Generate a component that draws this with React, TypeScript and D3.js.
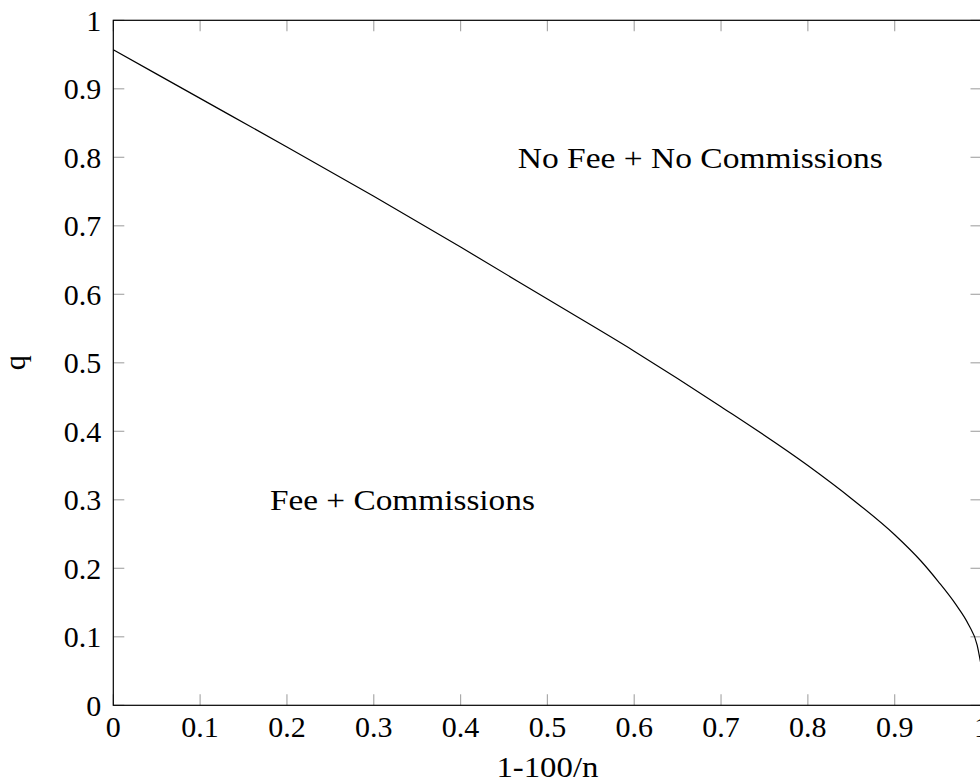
import * as d3 from 'd3';

const width = 980;
const height = 784;
const margin = { top: 20.3, left: 113.3, bottom: 78.7 };
const plotW = 868.2;

// curve: x = 1-100/n, q
const xValues = [0, 0.1, 0.2, 0.3, 0.4, 0.5, 0.6, 0.7, 0.8, 0.85, 0.9, 0.93, 0.95, 0.97, 0.985, 0.995, 1];
const qValues = [0.957, 0.886, 0.815, 0.743, 0.669, 0.593, 0.517, 0.436, 0.35, 0.302, 0.249, 0.211, 0.181, 0.148, 0.118, 0.088, 0.055];

const tickValues = [0, 0.1, 0.2, 0.3, 0.4, 0.5, 0.6, 0.7, 0.8, 0.9, 1];
const tickLabels = ['0', '0.1', '0.2', '0.3', '0.4', '0.5', '0.6', '0.7', '0.8', '0.9', '1'];

const regionLabels = ['No Fee + No Commissions', 'Fee + Commissions'];
const regionX = [0.676, 0.333];
const regionQ = [0.8, 0.3];
const regionWidths = [365, 265];

const font = "'Liberation Serif', 'Times New Roman', serif";

export default function App() {
  const plotH = height - margin.top - margin.bottom;
  const x = d3.scaleLinear().domain([0, 1]).range([margin.left, margin.left + plotW]);
  const y = d3.scaleLinear().domain([0, 1]).range([margin.top + plotH, margin.top]);

  const points: [number, number][] = xValues.map((v, i) => [v, qValues[i]]);
  const line = d3
    .line<[number, number]>()
    .x((d) => x(d[0]))
    .y((d) => y(d[1]))
    .curve(d3.curveMonotoneX);

  const tickLen = 11;
  const x0 = x(0), x1 = x(1), y0 = y(0), y1 = y(1);

  return (
    <svg
      width={width}
      height={height}
      style={{ position: 'absolute', left: 0, top: 0, background: '#fff', fontFamily: font }}
    >
      <rect x={0} y={0} width={width} height={height} fill="#fff" />
      {/* ticks on all four sides, pointing in */}
      <g stroke="#aaa" strokeWidth={1.2}>
        {tickValues.map((t, i) => (
          <g key={'t' + i}>
            <line x1={x(t)} x2={x(t)} y1={y0} y2={y0 - tickLen} />
            <line x1={x(t)} x2={x(t)} y1={y1} y2={y1 + tickLen} />
            <line x1={x0} x2={x0 + tickLen} y1={y(t)} y2={y(t)} />
            <line x1={x1} x2={x1 - tickLen} y1={y(t)} y2={y(t)} />
          </g>
        ))}
      </g>
      <path d={line(points) ?? ''} fill="none" stroke="#000" strokeWidth={1.2} />
      <rect x={x0} y={y1} width={x1 - x0} height={y0 - y1} fill="none" stroke="#000" strokeWidth={1.2} />
      {/* y tick labels */}
      {tickValues.map((t, i) => (
        <text key={'yl' + i} x={x0 - 12} y={y(t) + 10.5} textAnchor="end" fontSize={30} fill="#000">
          {tickLabels[i]}
        </text>
      ))}
      {/* x tick labels */}
      {tickValues.map((t, i) => (
        <text key={'xl' + i} x={x(t)} y={y0 + 32} textAnchor="middle" fontSize={30} fill="#000">
          {tickLabels[i]}
        </text>
      ))}
      <text
        x={x(0.5)}
        y={y0 + 72}
        textAnchor="middle"
        fontSize={30}
        textLength={102}
        lengthAdjust="spacingAndGlyphs"
      >
        1-100/n
      </text>
      <text transform={`translate(25, ${y(0.5)}) rotate(-90)`} textAnchor="middle" fontSize={30}>
        q
      </text>
      {regionLabels.map((label, i) => (
        <text
          key={'r' + i}
          x={x(regionX[i]) - regionWidths[i] / 2}
          y={y(regionQ[i]) + 10.5}
          fontSize={30}
          textLength={regionWidths[i]}
          lengthAdjust="spacingAndGlyphs"
        >
          {label}
        </text>
      ))}
    </svg>
  );
}
